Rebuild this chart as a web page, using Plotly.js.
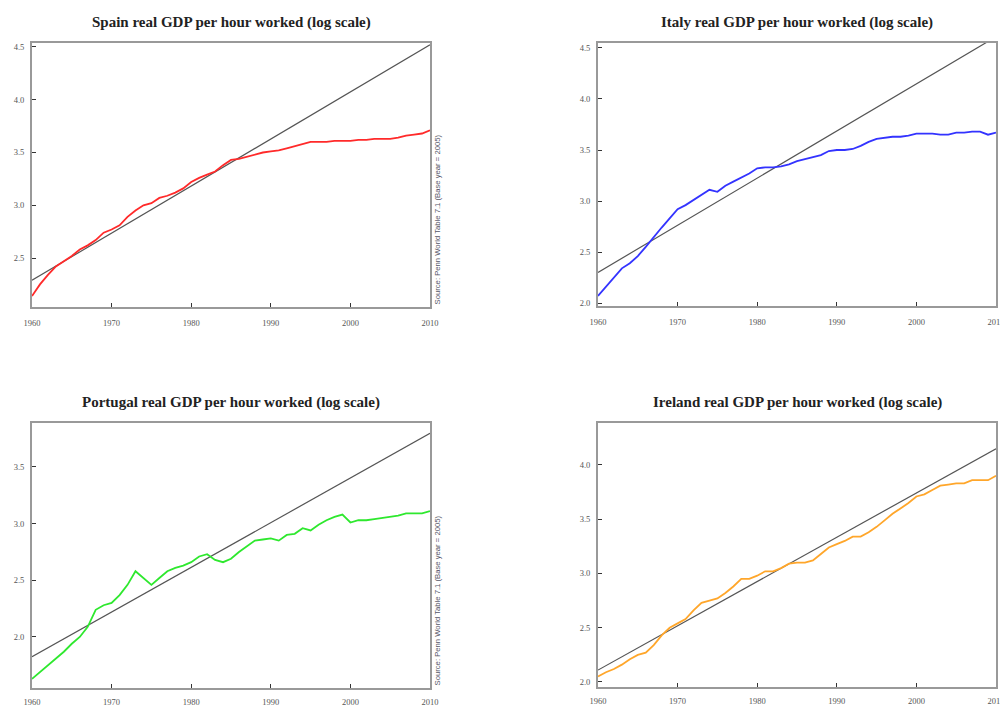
<!DOCTYPE html>
<html>
<head>
<meta charset="utf-8">
<script src="https://cdn.plot.ly/plotly-3.0.1.min.js"></script>
<style>html,body{margin:0;padding:0;background:#fff;}#chart{width:1000px;height:707px;}</style>
</head>
<body>
<div id="chart"></div>
<script>
const years = [1960,1961,1962,1963,1964,1965,1966,1967,1968,1969,1970,1971,1972,1973,1974,1975,1976,1977,1978,1979,1980,1981,1982,1983,1984,1985,1986,1987,1988,1989,1990,1991,1992,1993,1994,1995,1996,1997,1998,1999,2000,2001,2002,2003,2004,2005,2006,2007,2008,2009,2010];

const spain = [2.14,2.25,2.34,2.42,2.47,2.52,2.58,2.62,2.67,2.74,2.77,2.81,2.89,2.95,3.00,3.02,3.07,3.09,3.12,3.16,3.22,3.26,3.29,3.32,3.38,3.43,3.44,3.46,3.48,3.50,3.51,3.52,3.54,3.56,3.58,3.60,3.60,3.60,3.61,3.61,3.61,3.62,3.62,3.63,3.63,3.63,3.64,3.66,3.67,3.68,3.71];
const italy = [2.07,2.16,2.25,2.34,2.39,2.46,2.55,2.65,2.74,2.83,2.92,2.96,3.01,3.06,3.11,3.09,3.15,3.19,3.23,3.27,3.32,3.33,3.33,3.34,3.36,3.39,3.41,3.43,3.45,3.49,3.50,3.50,3.51,3.54,3.58,3.61,3.62,3.63,3.63,3.64,3.66,3.66,3.66,3.65,3.65,3.67,3.67,3.68,3.68,3.65,3.67];
const portugal = [1.63,1.69,1.75,1.81,1.87,1.94,2.00,2.09,2.24,2.28,2.30,2.37,2.46,2.58,2.52,2.46,2.52,2.58,2.61,2.63,2.66,2.71,2.73,2.68,2.66,2.69,2.75,2.80,2.85,2.86,2.87,2.85,2.90,2.91,2.96,2.94,2.99,3.03,3.06,3.08,3.01,3.03,3.03,3.04,3.05,3.06,3.07,3.09,3.09,3.09,3.11];
const ireland = [2.05,2.09,2.12,2.16,2.21,2.25,2.27,2.34,2.43,2.50,2.54,2.58,2.66,2.73,2.75,2.77,2.82,2.88,2.95,2.95,2.98,3.02,3.02,3.05,3.09,3.10,3.10,3.12,3.18,3.24,3.27,3.30,3.34,3.34,3.38,3.43,3.49,3.55,3.60,3.65,3.71,3.73,3.77,3.81,3.82,3.83,3.83,3.86,3.86,3.86,3.90];

const trendYears = [1960, 2010];
const spainTrend = [2.29, 4.52];
const italyTrend = [2.30, 4.61];
const portugalTrend = [1.826, 3.797];
const irelandTrend = [2.11, 4.15];

const titles = [
  "Spain real GDP per hour worked (log scale)",
  "Italy real GDP per hour worked (log scale)",
  "Portugal real GDP per hour worked (log scale)",
  "Ireland real GDP per hour worked (log scale)"
];
const sourceText = "Source: Penn World Table 7.1 (Base year = 2005)";
const xTicks = [1960, 1970, 1980, 1990, 2000, 2010];
const yTicks = [2.0, 2.5, 3.0, 3.5, 4.0, 4.5];
const yTickText = ["2.0", "2.5", "3.0", "3.5", "4.0", "4.5"];

const panels = [
  {series: spain, trend: spainTrend, color: "#ff2a2a", xd: [0.032, 0.430], yd: [0.5658, 0.9392], yr: [2.036, 4.538], tx: 0.231, ty: 0.9675, sx: 0.431, sy: 0.5658, xs: 7},
  {series: italy, trend: italyTrend, color: "#3333ff", xd: [0.598, 0.996], yd: [0.5672, 0.9392], yr: [1.971, 4.549], tx: 0.797, ty: 0.9675, sx: 0.997, sy: 0.5672, xs: 7},
  {series: portugal, trend: portugalTrend, color: "#2ee82e", xd: [0.032, 0.430], yd: [0.0269, 0.4017], yr: [1.550, 3.888], tx: 0.231, ty: 0.4300, sx: 0.431, sy: 0.0269, xs: 5},
  {series: ireland, trend: irelandTrend, color: "#ffa62a", xd: [0.598, 0.996], yd: [0.0283, 0.4017], yr: [1.954, 4.387], tx: 0.797, ty: 0.4300, sx: 0.997, sy: 0.0283, xs: 5}
];

const data = [];
const layout = {
  width: 1000, height: 707,
  margin: {l: 0, r: 0, t: 0, b: 0},
  paper_bgcolor: "#ffffff", plot_bgcolor: "#ffffff",
  showlegend: false,
  annotations: []
};

panels.forEach((p, i) => {
  const n = i + 1;
  const xa = n === 1 ? "x" : "x" + n;
  const ya = n === 1 ? "y" : "y" + n;
  data.push({x: trendYears, y: p.trend, xaxis: xa, yaxis: ya, mode: "lines", type: "scatter",
             line: {color: "#555555", width: 1.2}, hoverinfo: "skip"});
  data.push({x: years, y: p.series, xaxis: xa, yaxis: ya, mode: "lines", type: "scatter",
             line: {color: p.color, width: 1.8}});
  const axCommon = {
    showgrid: false, zeroline: false, showline: true, mirror: true,
    linecolor: "#999999", linewidth: 2,
    ticks: "inside", ticklen: 4, tickwidth: 1, tickcolor: "#333333",
    ticklabeloverflow: "allow",
    tickfont: {family: "Liberation Serif, serif", size: 8.5, color: "#555555"}
  };
  layout["xaxis" + (n === 1 ? "" : n)] = Object.assign({}, axCommon, {
    domain: p.xd, range: [1960, 2010], anchor: ya,
    tickmode: "array", tickvals: xTicks, ticktext: xTicks.map(String),
    ticklabelstandoff: p.xs
  });
  layout["yaxis" + (n === 1 ? "" : n)] = Object.assign({}, axCommon, {
    domain: p.yd, range: p.yr, anchor: xa,
    tickmode: "array", tickvals: yTicks, ticktext: yTickText,
    ticklabelstandoff: 4
  });
  layout.annotations.push({
    text: "<b>" + titles[i] + "</b>", xref: "paper", yref: "paper",
    x: p.tx, y: p.ty, xanchor: "center", yanchor: "middle", showarrow: false,
    font: {family: "Liberation Serif, serif", size: 15, color: "#222222"}
  });
  layout.annotations.push({
    text: sourceText, xref: "paper", yref: "paper",
    x: p.sx, y: p.sy, xanchor: "left", yanchor: "bottom", showarrow: false,
    textangle: -90,
    font: {family: "Liberation Sans, sans-serif", size: 7.7, color: "#555566"}
  });
});

Plotly.newPlot("chart", data, layout, {displayModeBar: false, staticPlot: true});
</script>
</body>
</html>
